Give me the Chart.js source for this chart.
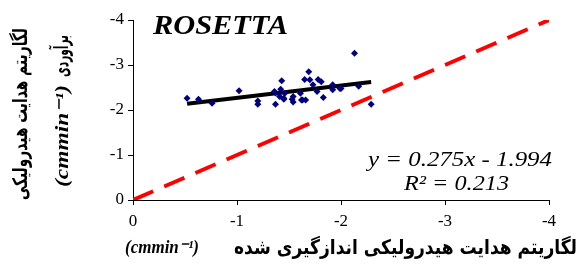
<!DOCTYPE html>
<html lang="fa">
<head>
    <meta charset="UTF-8">
    <script src="https://cdn.jsdelivr.net/npm/chart.js"></script>
    <title>ROSETTA</title>
    <style>
        body { margin: 0; background: #fff; }
        #wrap { width: 582px; height: 268px; }
    </style>
</head>
<body>
    <div id="wrap"><canvas id="myChart" width="582" height="268"></canvas></div>
    <script>
        // log K mesuré (x) et estimé (y)
        const measured = [-0.52, -0.63, -0.76, -1.02, -1.20, -1.20, -1.37, -1.36, -1.37, -1.43, -1.42,
            -1.41, -1.45, -1.46, -1.53, -1.54, -1.54, -1.61, -1.63, -1.66, -1.65, -1.69, -1.70, -1.73,
            -1.78, -1.81, -1.77, -1.83, -1.92, -1.92, -1.99, -2.00, -2.13, -2.17, -2.29, -1.45, -1.62];
        const estimated = [-2.26, -2.24, -2.15, -2.43, -2.13, -2.20, -2.13, -2.41, -2.38, -2.65, -2.46,
            -2.30, -2.26, -2.37, -2.24, -2.18, -2.30, -2.37, -2.22, -2.22, -2.68, -2.85, -2.67, -2.56,
            -2.68, -2.63, -2.41, -2.28, -2.56, -2.45, -2.48, -2.48, -3.26, -2.53, -2.13, -2.24, -2.22];

        const trendX = [-0.52, -2.29];
        const trendY = [-2.14, -2.62];
        const lineX = [0, -4];
        const lineY = [0, -4];
        const tickValues = [0, -1, -2, -3, -4];

        const title = 'ROSETTA';
        const equation = 'y = 0.275x - 1.994';
        const rSquared = 'R² = 0.213';
        const xTitle = 'لگاریتم هدایت هیدرولیکی اندازگیری شده';
        const yTitle1 = 'لگاریتم هدایت هیدرولیکی';
        const yTitle2 = 'برآوردی';
        const unit = '(cmmin⁻¹)';

        const toPoints = (xs, ys) => xs.map((x, i) => ({ x: x, y: ys[i] }));

        const persian = 'bold 20px "DejaVu Sans"';
        const unitFont = 'bold italic 18px "Liberation Serif"';

        // écrit un texte étiré/compressé pour occuper [left, left+width]
        const fitText = (c, text, left, y, width, rtl) => {
            c.save();
            c.direction = rtl ? 'rtl' : 'ltr';
            c.textAlign = 'left';
            const w = c.measureText(text).width;
            c.translate(left, y);
            c.scale(width / w, 1);
            if (rtl) {
                c.textAlign = 'right';
                c.fillText(text, w, 0);
            } else {
                c.fillText(text, 0, 0);
            }
            c.restore();
        };

        const textPlugin = {
            id: 'texts',
            afterDraw(chart) {
                const c = chart.ctx;
                c.save();
                c.fillStyle = '#000';
                c.textBaseline = 'middle';

                c.font = 'bold italic 28px "Liberation Serif"';
                fitText(c, title, 153, 27, 135);

                c.font = 'italic 22px "Liberation Serif"';
                fitText(c, equation, 368, 160, 184);
                fitText(c, rSquared, 404, 184, 105);

                // titre axe x
                c.font = persian;
                fitText(c, xTitle, 234, 249, 343, true);
                c.font = unitFont;
                fitText(c, unit, 125, 248, 74);

                // titre axe y
                c.save();
                c.translate(22, 200);
                c.rotate(-Math.PI / 2);
                c.font = persian;
                fitText(c, yTitle1, 0, 0, 172, true);
                c.restore();

                c.save();
                c.translate(63, 200);
                c.rotate(-Math.PI / 2);
                c.font = persian;
                fitText(c, yTitle2, 123, 0, 42, true);
                c.font = unitFont;
                fitText(c, unit, 13, 0, 102);
                c.restore();

                c.restore();
            }
        };

        const axisStyle = {
            type: 'linear',
            min: -4,
            max: 0,
            reverse: true,
            grid: { drawOnChartArea: false, drawTicks: true, tickLength: 5, color: '#000' },
            border: { color: '#000', width: 1 },
            ticks: {
                stepSize: 1,
                color: '#000',
                font: { family: '"Liberation Serif"', size: 17 },
                callback: (v) => tickValues.includes(v) ? String(v) : ''
            }
        };

        const chartConfig = {
            type: 'scatter',
            data: {
                datasets: [
                    {
                        label: 'points',
                        data: toPoints(measured, estimated),
                        pointStyle: 'rectRot',
                        pointRadius: 3.5,
                        backgroundColor: '#000080',
                        borderColor: '#000080',
                        borderWidth: 0
                    },
                    {
                        label: 'trend',
                        data: toPoints(trendX, trendY),
                        showLine: true,
                        pointRadius: 0,
                        borderColor: '#000',
                        borderWidth: 4
                    },
                    {
                        label: '1:1',
                        data: toPoints(lineX, lineY),
                        showLine: true,
                        pointRadius: 0,
                        borderColor: '#ff0000',
                        borderWidth: 4,
                        borderDash: [22, 12]
                    }
                ]
            },
            options: {
                responsive: false,
                animation: false,
                layout: { padding: { left: 0, right: 33, top: 20, bottom: 0 } },
                plugins: { legend: { display: false }, tooltip: { enabled: false } },
                scales: {
                    x: Object.assign({}, axisStyle, {
                        ticks: Object.assign({}, axisStyle.ticks, { padding: 6, maxRotation: 0 }),
                        afterFit: (s) => { s.height = 68; }
                    }),
                    y: Object.assign({}, axisStyle, {
                        ticks: Object.assign({}, axisStyle.ticks, { padding: 4 }),
                        afterFit: (s) => { s.width = 133; }
                    })
                }
            },
            plugins: [textPlugin]
        };

        const ctx = document.getElementById('myChart').getContext('2d');
        const myChart = new Chart(ctx, chartConfig);
    </script>
</body>
</html>
